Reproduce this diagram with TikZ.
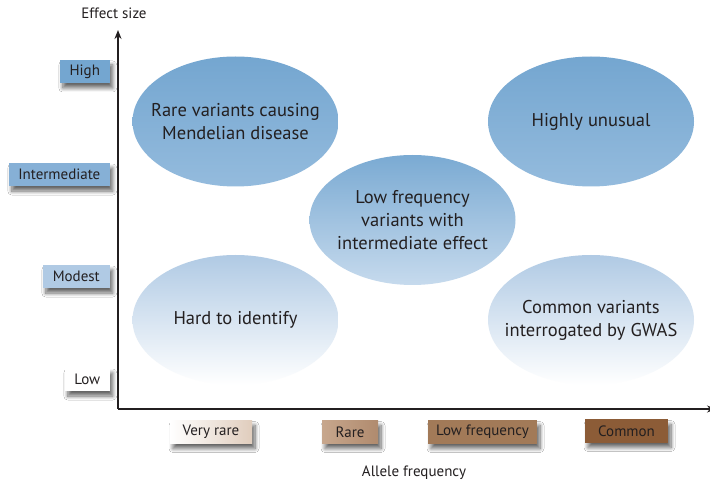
\documentclass[tikz,border=0pt]{standalone}
\usepackage{fontspec}
\setmainfont{PT Sans}
\usetikzlibrary{shapes.geometric,shadows.blur,arrows.meta}
\definecolor{ink}{HTML}{231F20}
\definecolor{bluedark}{HTML}{74A6D0}
\definecolor{bluemid}{HTML}{94BBDD}
\definecolor{bluelight}{HTML}{B0CAE4}
\definecolor{bluepale}{HTML}{C6DAED}
\definecolor{bluetag}{HTML}{86B0D6}
\definecolor{tanpale}{HTML}{E0CDBD}
\definecolor{tanA}{HTML}{C7A78D}
\definecolor{tanB}{HTML}{B08B6E}
\definecolor{tanC}{HTML}{A27A58}
\definecolor{tanD}{HTML}{8C5C37}
\tikzset{
  zone/.style={ellipse, minimum width=206pt, minimum height=130pt, align=center,
    font=\fontsize{18.5}{23}\selectfont, text=ink, inner sep=-22pt},
  tag/.style={font=\fontsize{15}{17}\selectfont, text=ink, inner sep=0pt,
    minimum height=23pt, blur shadow={shadow xshift=3pt, shadow yshift=-5pt,
    shadow blur steps=8, shadow blur radius=4pt, shadow opacity=60}},
  axis/.style={line width=2.2pt, draw=ink},
  caption/.style={font=\fontsize{15}{17}\selectfont, text=ink},
}
\begin{document}
\begin{tikzpicture}[x=1pt,y=-1pt]
\useasboundingbox (0,0) rectangle (710,486);
\fill[white] (0,0) rectangle (710,486);

% effect-size zones
\node[zone, top color=bluedark, bottom color=bluemid] (mend) at (235.5,121.5)
  {Rare variants causing\\Mendelian disease};
\node[zone, top color=bluedark, bottom color=bluemid] (unusual) at (591,121.5)
  {Highly unusual};
\node[zone, top color=bluedark!80!bluemid, bottom color=bluepale] (lowfreq) at (412.5,220)
  {Low frequency\\variants with\\intermediate effect};
\node[zone, top color=bluelight, bottom color=white] (hard) at (235.5,320)
  {Hard to identify};
\node[zone, top color=bluelight, bottom color=white] (gwas) at (591,320)
  {Common variants\\interrogated by GWAS};

% axes
\coordinate (origin) at (118,409);
\coordinate (ytop) at (118,30);
\coordinate (xend) at (716,409);
\draw[axis, -{Stealth[length=9pt,width=7pt]}] (origin) -- (ytop);
\draw[axis, -{Stealth[length=9pt,width=7pt]}] (origin) -- (xend);
\node[caption] (ylab) at (114,13) {Effect size};
\node[caption] (xlab) at (414,473) {Allele frequency};

% effect-size levels
\node[tag, fill=bluedark, minimum width=50pt, anchor=east] (high) at (110,71.5) {High};
\node[tag, fill=bluetag, minimum width=101pt, anchor=east] (inter) at (110,174.5) {Intermediate};
\node[tag, fill=bluelight, minimum width=67pt, anchor=east] (modest) at (110,276.5) {Modest};
\node[tag, fill=white, minimum width=45pt, anchor=east] (low) at (110,379.5) {Low};

% allele-frequency classes
\node[tag, left color=white, right color=tanpale, minimum width=82pt] (vrare) at (211,432) {Very rare};
\node[tag, left color=tanA, right color=tanB, minimum width=56pt] (rare) at (350,432) {Rare};
\node[tag, fill=tanC, minimum width=109pt] (lfreq) at (482.5,432) {Low frequency};
\node[tag, fill=tanD, minimum width=83pt] (common) at (626.5,431) {Common};
\end{tikzpicture}
\end{document}
